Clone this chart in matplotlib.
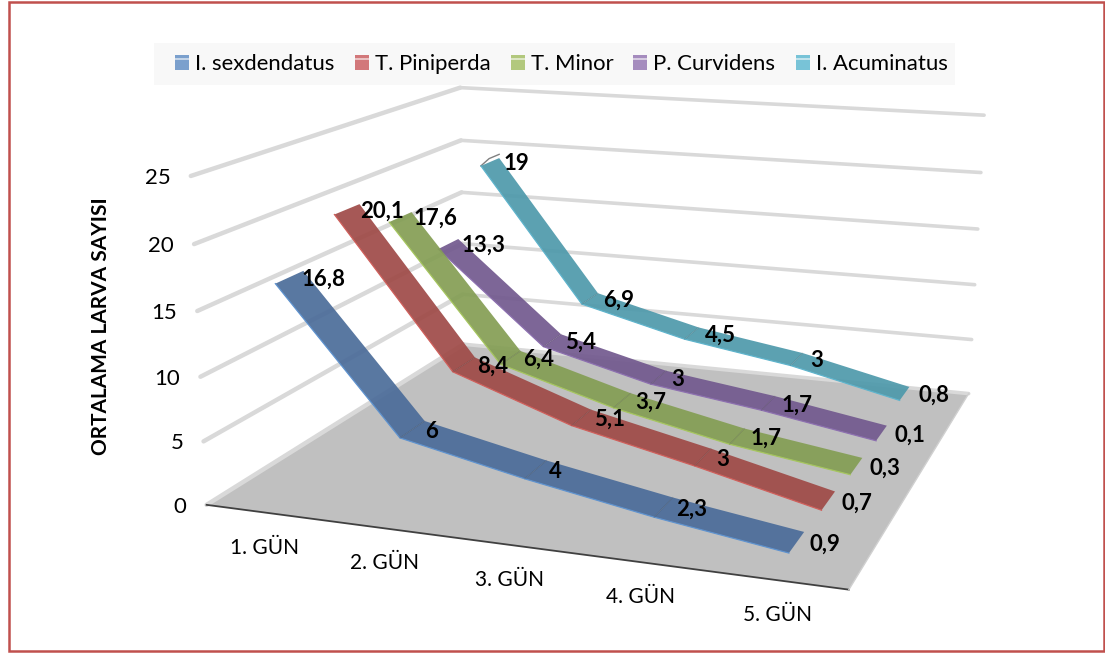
import numpy as np
import matplotlib
matplotlib.use("Agg")
import matplotlib.pyplot as plt
from matplotlib.patches import Rectangle
from matplotlib.legend_handler import HandlerBase
from mpl_toolkits.mplot3d import proj3d
from mpl_toolkits.mplot3d.art3d import Poly3DCollection

plt.rcParams['font.family'] = ['Lato', 'DejaVu Sans']

days = ["1. GÜN", "2. GÜN", "3. GÜN", "4. GÜN", "5. GÜN"]
day_pos = [1, 2, 3, 4, 5]
series_names = ["I. sexdendatus", "T. Piniperda", "T. Minor", "P. Curvidens", "I. Acuminatus"]
sexdendatus = [16.8, 6, 4, 2.3, 0.9]
piniperda = [20.1, 8.4, 5.1, 3, 0.7]
minor = [17.6, 6.4, 3.7, 1.7, 0.3]
curvidens = [13.3, 5.4, 3, 1.7, 0.1]
acuminatus = [19, 6.9, 4.5, 3, 0.8]
series_values = [sexdendatus, piniperda, minor, curvidens, acuminatus]
ribbon_colors = ["#4b6c99", "#9f4a47", "#849e54", "#72598e", "#4e99ab"]
edge_colors = ["#5f93cf", "#d0605c", "#a6c65f", "#8d70b0", "#5fb4cc"]
legend_colors = ["#7ba0cd", "#d2787a", "#b2c87d", "#a58cbe", "#78c3d7"]
z_ticks = [0, 5, 10, 15, 20, 25]

W, H = 1105, 653
fig = plt.figure(figsize=(W/100, H/100), dpi=100, facecolor='white')
ax = fig.add_axes([0, 0, H/W, 1], projection='3d', computed_zorder=False)
ax.set_axis_off()

# camera
elev, azim, roll, log_f, log_bx, log_by = 15.14193, -70.13275, -0.11804, -0.99066, 0.67171, 0.68338
cx, cy, cz = 3.28089, 0.55338, 13.4112
scale, off_x, off_y = 5438.504, 572.746, 305.602
ax.set_xlim(cx-2.5, cx+2.5)
ax.set_ylim(cy-2.5, cy+2.5)
ax.set_zlim(cz-12.5, cz+12.5)
ax.set_box_aspect((np.exp(log_bx), np.exp(log_by), 1))
ax.view_init(elev=elev, azim=azim, roll=roll)
ax.set_proj_type('persp', focal_length=np.exp(log_f))

a = ax.transLimits.transform([[0, 0], [1, 1]])
S = scale/(a[1, 0]-a[0, 0])
ax.set_position([(off_x-a[0, 0]*S)/W, (off_y-a[0, 1]*S)/H, S/W, S/H])

M = ax.get_proj()
def P(x, y, z):
    u, v, _ = proj3d.proj_transform(np.array([x], float), np.array([y], float), np.array([z], float), M)
    return float(u[0]), float(v[0])

x0, x1, y0, y1 = 0.5, 5.5, 0, 5
ax.add_collection3d(Poly3DCollection([[(x0, y0, 0), (x1, y0, 0), (x1, y1, 0), (x0, y1, 0)]],
                                     facecolors='#c0c0c0', edgecolors='none', zorder=1))
for v in z_ticks:
    ax.plot([x0, x0], [y0, y1], [v, v], color='#d9d9d9', lw=3.2, zorder=2, solid_capstyle='round')
    ax.plot([x0, x1], [y1, y1], [v, v], color='#d9d9d9', lw=2.6, zorder=2, solid_capstyle='round')
ax.plot([x0, x1], [y0, y0], [0, 0], color='#404040', lw=1.3, zorder=3)
ax.plot([x1, x1], [y0, y1], [0, 0], color='#d0d0d0', lw=1.0, zorder=3)

h_near, h_far = 0.2, 0.25
for i in range(4, -1, -1):
    vals = series_values[i]
    yc = i+0.5
    zo = 10+(4-i)
    for j in range(4):
        q = [(day_pos[j], yc-h_near, vals[j]), (day_pos[j], yc+h_far, vals[j]),
             (day_pos[j+1], yc+h_far, vals[j+1]), (day_pos[j+1], yc-h_near, vals[j+1])]
        ax.add_collection3d(Poly3DCollection([q], facecolors=ribbon_colors[i], edgecolors='none', alpha=0.92, zorder=zo))
    ax.plot(day_pos, [yc-h_near]*5, vals, color=edge_colors[i], lw=0.9, zorder=zo+.1)
    for j in range(1, 4):
        ax.plot([day_pos[j]]*2, [yc-h_near, yc+h_far], [vals[j]]*2, color='#000000', alpha=0.12, lw=0.8, zorder=zo+.1)
    for d, v in zip(day_pos, vals):
        ax.annotate(f"{v:g}".replace('.', ','), P(d, yc, v), xytext=(14, -1), textcoords='offset pixels',
                    ha='left', va='center', fontsize=16, fontweight='bold', color='black',
                    annotation_clip=False, zorder=30)
ax.plot([1, 1, 1], [4.5-h_near, 4.5, 4.5+h_far], [19, 19.35, 19.35], color='#808080', lw=1, zorder=9)

for v in z_ticks:
    ax.annotate(str(v), P(x0, y0, v), xytext=(-20, -2), textcoords='offset pixels', ha='right', va='center',
                fontsize=16, color='black', annotation_clip=False, zorder=30)
for d, n in zip(day_pos, days):
    ax.annotate(n, P(d, y0, 0), xytext=(0, -35), textcoords='offset pixels', ha='center', va='center',
                fontsize=15, color='black', annotation_clip=False, zorder=30)

fig.text(101/W, 1-326/H, "ORTALAMA LARVA SAYISI", rotation=90, ha='center', va='center', fontsize=15, fontweight='bold')

fig.add_artist(Rectangle((154/W, 1-85/H), 801/W, 42/H, transform=fig.transFigure, facecolor='#f8f8f8', edgecolor='none', zorder=1))

class Swatch(HandlerBase):
    def create_artists(self, legend, orig, xd, yd, width, height, fontsize, trans):
        c = orig.get_facecolor()
        r1 = Rectangle((-xd, -yd), width, height, facecolor=c, edgecolor='none', transform=trans)
        r2 = Rectangle((-xd, -yd+height*.62), width, height*.2, facecolor='white', alpha=.55, edgecolor='none', transform=trans)
        return [r1, r2]

handles = [Rectangle((0, 0), 1, 1, facecolor=c) for c in legend_colors]
fig.legend(handles, series_names, ncol=5, loc='center left', bbox_to_anchor=(175/W, 1-64/H),
           handler_map={Rectangle: Swatch()}, frameon=False, fontsize=15.9,
           handlelength=.64, handleheight=.64, handletextpad=.27, columnspacing=.91,
           borderpad=0, borderaxespad=0)
fig.add_artist(Rectangle((8.5/W, 1-651/H), 1095/W, 649/H, transform=fig.transFigure, fill=False, edgecolor='#c0504d', lw=1.8, zorder=6))

fig.savefig('out.png', dpi=100)
